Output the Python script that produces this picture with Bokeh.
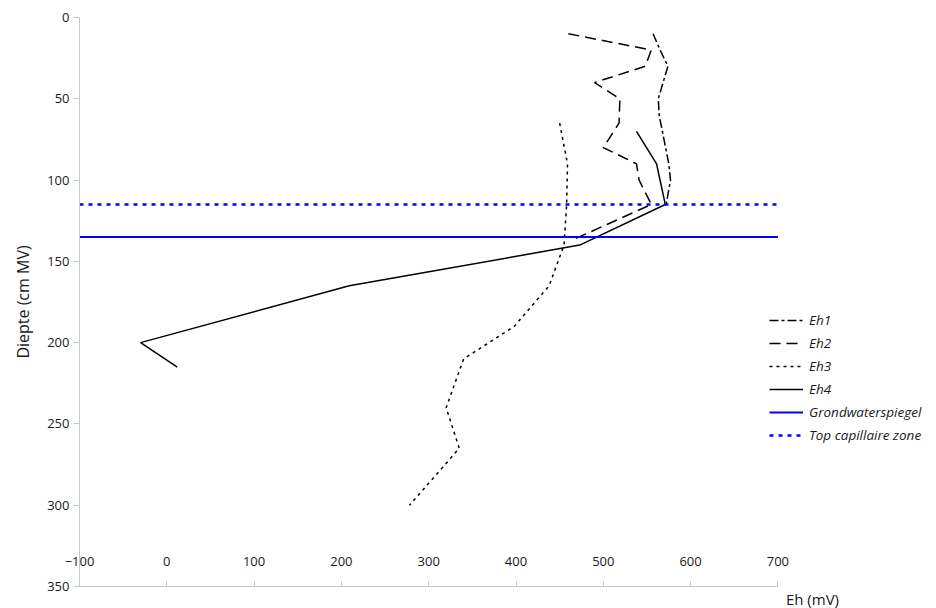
from bokeh.plotting import figure
from bokeh.models import Range1d, FixedTicker, Legend, LegendItem, Title
from bokeh.embed import file_html
from bokeh.resources import INLINE

# ---- data ----
eh1_depth = [10, 20, 30, 50, 60, 90, 100, 115]
eh1_mv = [557, 565, 574, 563, 564, 575, 577, 572]

eh2_depth = [10, 20, 30, 40, 50, 65, 80, 90, 100, 115, 137]
eh2_mv = [460, 555, 548, 490, 519, 518, 500, 538, 541, 555, 464]

eh3_depth = [65, 90, 115, 140, 165, 190, 210, 240, 265, 300]
eh3_mv = [450, 459, 458, 455, 438, 398, 340, 320, 335, 278]

eh4_depth = [70, 90, 115, 140, 165, 200, 215]
eh4_mv = [538, 561, 571, 473, 209, -30, 12]

grondwater_depth = 135
capillair_depth = 115

x_ticks = [-100, 0, 100, 200, 300, 400, 500, 600, 700]
y_ticks = [0, 50, 100, 150, 200, 250, 300, 350]

series_names = ["Eh1", "Eh2", "Eh3", "Eh4", "Grondwaterspiegel", "Top capillaire zone"]

# ---- layout constants ----
FONT = "Open Sans"
PX_PER_MV = 0.873
PX_PER_CM = 1.627
LEFT, TOP = 79, 17

x_min, x_max = x_ticks[0], x_ticks[-1]
y_min, y_max = y_ticks[0], y_ticks[-1]
FRAME_W = 936 - LEFT
FRAME_H = round((y_max - y_min) * PX_PER_CM)
x_end = x_min + FRAME_W / PX_PER_MV

p = figure(frame_width=FRAME_W, frame_height=FRAME_H,
           output_backend="svg", toolbar_location=None,
           x_range=Range1d(x_min, x_end), y_range=Range1d(y_max, y_min),
           min_border_left=LEFT, min_border_right=0, min_border_top=TOP,
           min_border_bottom=0)
p.outline_line_color = None
p.grid.grid_line_color = None
p.background_fill_color = "white"
p.border_fill_color = "white"

# axes
xa = p.xaxis[0]
xa.ticker = FixedTicker(ticks=x_ticks)
xa.bounds = (x_min, x_max)
xa.axis_line_color = "#c8c8c8"
xa.major_tick_line_color = "#c8c8c8"
xa.major_tick_in = 5
xa.major_tick_out = 0
xa.minor_tick_line_color = None
xa.major_label_standoff = -30
xa.major_label_text_font = FONT
xa.major_label_text_font_size = "13px"
xa.major_label_text_color = "#1a1a1a"

ya = p.yaxis[0]
ya.ticker = FixedTicker(ticks=y_ticks)
ya.bounds = (y_min, y_max)
ya.axis_line_color = "#c8c8c8"
ya.major_tick_line_color = "#c8c8c8"
ya.major_tick_in = 0
ya.major_tick_out = 6
ya.minor_tick_line_color = None
ya.major_label_standoff = 4
ya.major_label_text_font = FONT
ya.major_label_text_font_size = "13px"
ya.major_label_text_color = "#1a1a1a"
ya.axis_label = "Diepte (cm MV)"
ya.axis_label_text_font = FONT
ya.axis_label_text_font_size = "16px"
ya.axis_label_text_font_style = "normal"
ya.axis_label_text_color = "#1a1a1a"
ya.axis_label_standoff = 10

# series
r1 = p.line(eh1_mv, eh1_depth, line_color="black", line_width=1.5, line_dash="9 3 3 3")
r2 = p.line(eh2_mv, eh2_depth, line_color="black", line_width=1.5, line_dash="11 6")
r3 = p.line(eh3_mv, eh3_depth, line_color="black", line_width=1.5, line_dash="3 4")
r4 = p.line(eh4_mv, eh4_depth, line_color="black", line_width=1.5)
r5 = p.line([x_min, x_max], [grondwater_depth, grondwater_depth], line_color="#0000ff", line_width=2)
r6 = p.line([x_min, x_max], [capillair_depth, capillair_depth], line_color="#0000ff",
            line_width=2.5, line_dash="4 5")

legend = Legend(items=[LegendItem(label=n, renderers=[r]) for n, r in
                       zip(series_names, [r1, r2, r3, r4, r5, r6])],
                location=(690, 142), orientation="vertical",
                border_line_color=None, background_fill_alpha=0,
                padding=0, margin=0, spacing=5,
                glyph_width=34, glyph_height=16, label_height=16,
                label_standoff=6,
                label_text_font=FONT, label_text_font_size="13.5px",
                label_text_font_style="italic", label_text_color="#1a1a1a")
p.add_layout(legend)

# x-axis title sits just right of the axis end, below the axis line
xtitle = Title(text="Eh (mV)", align="left",
               offset=(x_max - x_min) * PX_PER_MV + 8,
               standoff=0, text_font=FONT, text_font_size="15px",
               text_line_height=1.0,
               text_font_style="normal", text_color="#1a1a1a")
p.add_layout(xtitle, "below")

open("out.html", "w").write(file_html(p, INLINE))
